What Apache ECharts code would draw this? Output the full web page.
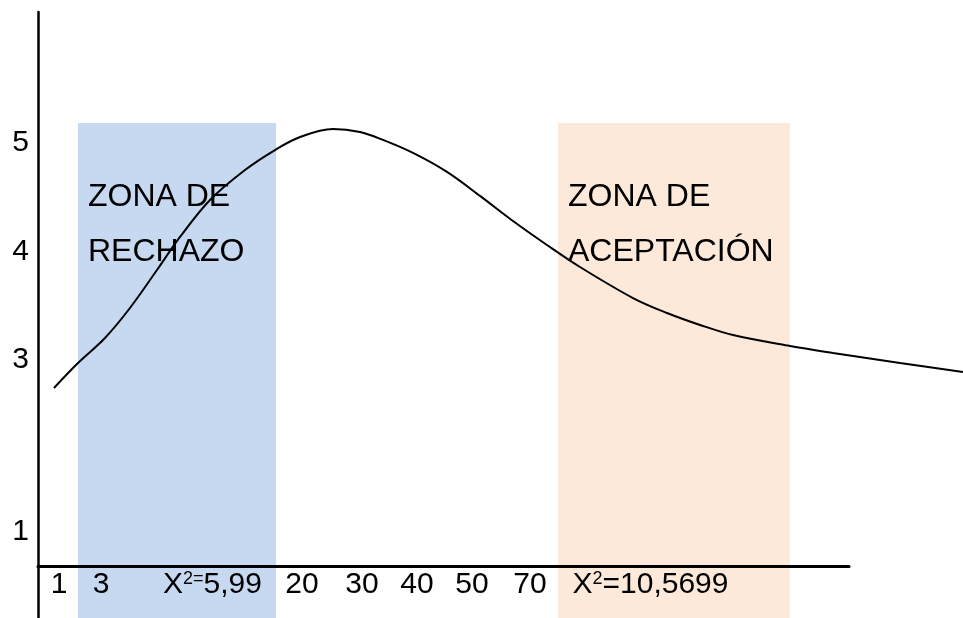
<!DOCTYPE html>
<html><head><meta charset="utf-8">
<script src="https://cdn.jsdelivr.net/npm/echarts@6/dist/echarts.min.js"></script>
<style>html,body{margin:0;padding:0;background:#fff}#c{width:963px;height:618px}</style>
</head><body><div id="c"></div>
<script>
// curve (x in axis units, 0..100 along the drawn x axis; y in label units)
const curveX = [1.97, 4.93, 8.26, 11.34, 14.67, 17.51, 21.21, 25.52, 29.22, 32.31, 36.37, 39.70, 42.54, 46.24, 50.43, 54.50, 58.57, 62.76, 66.83, 73.37, 77.56, 81.63, 85.70, 92.73, 98.03, 106.29, 114.06];
const curveY = [2.742, 2.972, 3.203, 3.479, 3.829, 4.134, 4.475, 4.751, 4.935, 5.055, 5.129, 5.101, 5.028, 4.908, 4.733, 4.512, 4.281, 4.060, 3.857, 3.571, 3.433, 3.323, 3.230, 3.129, 3.065, 2.972, 2.889];

const yTickLabels = ['1', '3', '4', '5'];
const yTickAt = [1.42, 3, 4, 5];

const xTickLabels = ['1', '3', 'X{sup|2=}5,99', '20', '30', '40', '50', '70', 'X{sup|2}=10,5699'];
const xTickAt = [2.59, 7.77, 21.52, 32.55, 39.95, 46.73, 53.51, 60.67, 75.52];

const zoneNames = ['ZONA DE\nRECHAZO', 'ZONA DE\nACEPTACIÓN'];
const zoneFrom = [4.93, 64.12];
const zoneTo = [29.35, 92.72];
const zoneTop = 5.184;
const zoneColors = ['#C6D9F1', '#FDE9D9'];

const X_MIN = 0, X_AXIS_END = 100, X_MAX = 114.06, Y_MIN = 0.622, Y_MAX = 6.207;

const FONT = 'Liberation Sans, Arial, sans-serif';
const chart = echarts.init(document.getElementById('c'), null, {renderer: 'canvas'});

const curveData = curveX.map((x, i) => [x, curveY[i]]);

chart.setOption({
  animation: false,
  backgroundColor: '#fff',
  grid: [
    {left: 38, right: 0, top: 12, bottom: 0, containLabel: false},
    {left: 38, right: 114, top: 12, bottom: 52, containLabel: false}
  ],
  xAxis: [
    {type: 'value', gridIndex: 0, min: X_MIN, max: X_MAX, show: false},
    {
      type: 'value', gridIndex: 1, min: X_MIN, max: X_AXIS_END, z: 10,
      axisLine: {show: true, onZero: false, lineStyle: {color: '#000', width: 3}},
      axisTick: {show: false},
      splitLine: {show: false},
      axisLabel: {
        show: true, margin: 4, customValues: xTickAt,
        color: '#000', fontSize: 30, fontFamily: FONT, lineHeight: 30,
        formatter: v => { const i = xTickAt.indexOf(v); return i >= 0 ? xTickLabels[i] : ''; },
        rich: {
          sup: {fontSize: 18, lineHeight: 6, fontFamily: FONT, color: '#000', verticalAlign: 'top'}
        }
      }
    }
  ],
  yAxis: [
    {
      type: 'value', gridIndex: 0, min: Y_MIN, max: Y_MAX, z: 10,
      axisLine: {show: true, onZero: false, lineStyle: {color: '#000', width: 2.5}},
      axisTick: {show: false},
      splitLine: {show: false},
      axisLabel: {
        show: true, margin: 9, customValues: yTickAt,
        color: '#000', fontSize: 30, fontFamily: FONT,
        formatter: v => { const i = yTickAt.indexOf(v); return i >= 0 ? yTickLabels[i] : ''; }
      }
    },
    {type: 'value', gridIndex: 1, min: Y_MIN, max: Y_MAX, show: false}
  ],
  series: [{
    type: 'line',
    xAxisIndex: 0, yAxisIndex: 0,
    data: curveData,
    smooth: 0.35,
    symbol: 'none',
    lineStyle: {color: '#000', width: 2},
    silent: true,
    z: 3,
    markArea: {
      silent: true,
      data: zoneNames.map((n, i) => [
        {name: n, xAxis: zoneFrom[i], yAxis: zoneTop, itemStyle: {color: zoneColors[i], opacity: 1}},
        {xAxis: zoneTo[i], yAxis: Y_MIN}
      ]),
      label: {
        show: true, position: [10, 47], color: '#000',
        fontSize: 32, lineHeight: 55, fontFamily: FONT, align: 'left', verticalAlign: 'top'
      }
    }
  }]
});
</script>
</body></html>
